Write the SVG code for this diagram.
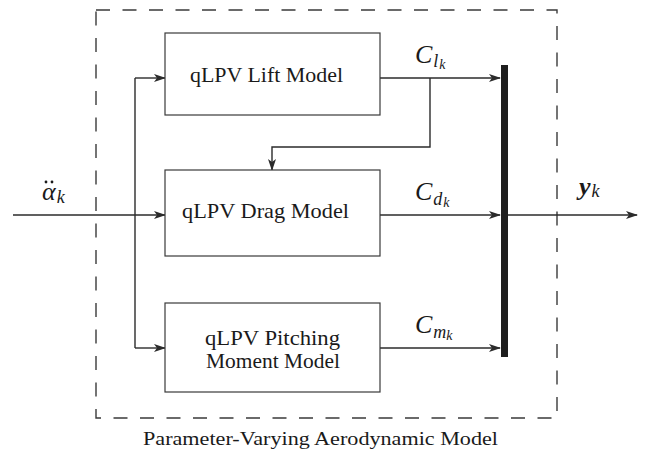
<svg xmlns="http://www.w3.org/2000/svg" width="647" height="452" viewBox="0 0 647 452">
  <defs>
    <marker id="arrow" viewBox="0 0 12 8" markerWidth="12" markerHeight="8" refX="11" refY="4" orient="auto" markerUnits="userSpaceOnUse">
      <path d="M0,0 L12,4 L0,8 L3,4 z" fill="#2b2b2b"/>
    </marker>
    <style>
      .box { fill: #ffffff; stroke: #3a3a3a; stroke-width: 1.2; }
      .frame { fill: none; stroke: #3a3a3a; stroke-width: 1.4; stroke-dasharray: 14 12.5; }
      .wire { fill: none; stroke: #2b2b2b; stroke-width: 1.4; }
      .arr { marker-end: url(#arrow); }
      text { font-family: 'Liberation Serif', 'DejaVu Serif', serif; fill: #1a1a1a; }
      .lbl { font-size: 21px; }
      .cap { font-size: 18px; }
      .math { font-style: italic; font-size: 26px; }
      .sub { font-size: 18px; }
      .subsub { font-size: 14px; }
    </style>
  </defs>

  <rect width="647" height="452" fill="#ffffff"/>

  <!-- outer model boundary -->
  <g id="boundary">
    <rect class="frame" x="96" y="10" width="461" height="408"/>
    <text class="cap" x="143" y="445" textLength="355" lengthAdjust="spacingAndGlyphs">Parameter-Varying Aerodynamic Model</text>
  </g>

  <!-- connectors -->
  <g id="connectors">
    <line class="wire arr" x1="13" y1="215" x2="165" y2="215"/>
    <line class="wire" x1="135" y1="78" x2="135" y2="348"/>
    <line class="wire arr" x1="135" y1="78" x2="165" y2="78"/>
    <line class="wire arr" x1="135" y1="348" x2="165" y2="348"/>
    <line class="wire arr" x1="380" y1="78" x2="500" y2="78"/>
    <polyline class="wire arr" points="430,78 430,147 272,147 272,170"/>
    <line class="wire arr" x1="380" y1="215" x2="500" y2="215"/>
    <line class="wire arr" x1="380" y1="348" x2="500" y2="348"/>
    <line class="wire arr" x1="508" y1="215" x2="637" y2="215"/>
  </g>

  <!-- blocks -->
  <g id="lift">
    <rect class="box" x="165" y="33" width="215" height="82"/>
    <text class="lbl" x="190" y="82" textLength="153" lengthAdjust="spacingAndGlyphs">qLPV Lift Model</text>
  </g>
  <g id="drag">
    <rect class="box" x="165" y="170" width="215" height="86"/>
    <text class="lbl" x="182" y="218" textLength="167" lengthAdjust="spacingAndGlyphs">qLPV Drag Model</text>
  </g>
  <g id="pitch">
    <rect class="box" x="165" y="303" width="215" height="89"/>
    <text class="lbl" x="205" y="345" textLength="135" lengthAdjust="spacingAndGlyphs">qLPV Pitching</text>
    <text class="lbl" x="206" y="368" textLength="134" lengthAdjust="spacingAndGlyphs">Moment Model</text>
  </g>
  <g id="mux">
    <rect x="501" y="65" width="7" height="292" fill="#1e1e1e"/>
  </g>

  <!-- signal labels -->
  <g id="labels">
    <text class="math" x="42" y="200">α<tspan class="sub" dx="1" dy="3">k</tspan></text>
    <!-- double-dot accent over alpha -->
    <circle cx="46" cy="182" r="1.4" fill="#1a1a1a"/>
    <circle cx="52" cy="182" r="1.4" fill="#1a1a1a"/>
    <text class="math" x="415" y="63">C<tspan class="sub" dx="1" dy="4">l</tspan><tspan class="subsub" dx="1" dy="2">k</tspan></text>
    <text class="math" x="415" y="200">C<tspan class="sub" dx="1" dy="5">d</tspan><tspan class="subsub" dx="1" dy="2">k</tspan></text>
    <text class="math" x="415" y="333">C<tspan class="sub" dx="1" dy="5">m</tspan><tspan class="subsub" dx="0" dy="2">k</tspan></text>
    <text class="math" x="579" y="195" font-style="normal" font-weight="bold">y<tspan class="sub" font-style="italic" font-weight="normal" dx="1" dy="2">k</tspan></text>
  </g>
</svg>
